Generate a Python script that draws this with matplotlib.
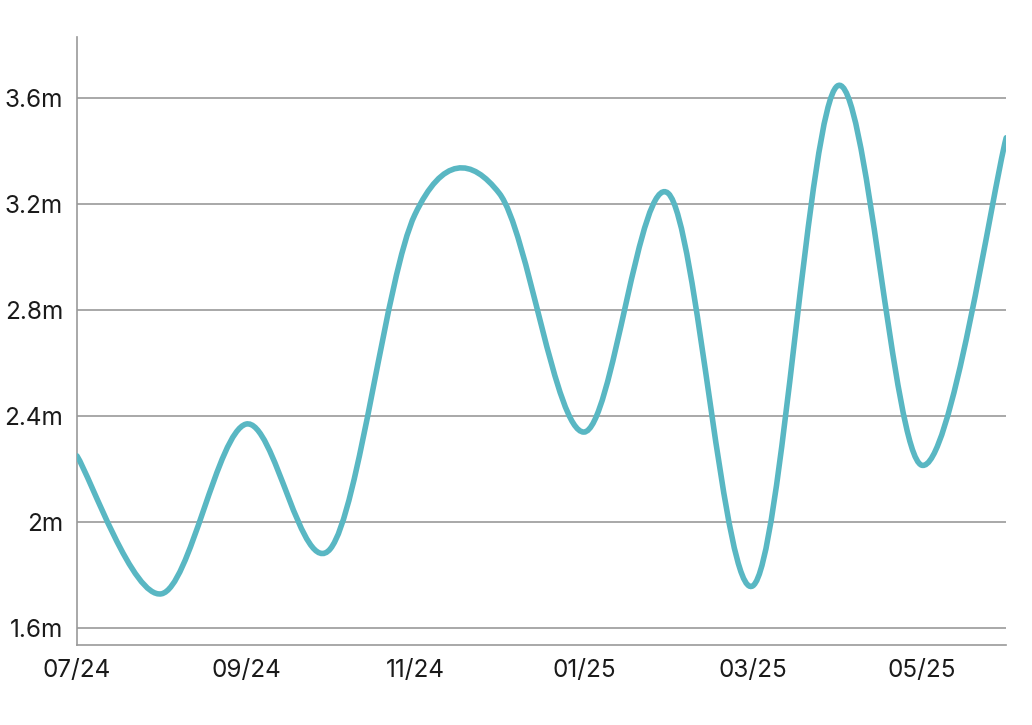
import numpy as np
import matplotlib.pyplot as plt
from matplotlib.path import Path
from matplotlib.patches import PathPatch

# monthly values (millions), 07/24 .. 06/25
months = ["07/24", "08/24", "09/24", "10/24", "11/24", "12/24",
          "01/25", "02/25", "03/25", "04/25", "05/25", "06/25"]
values = [2.25, 1.73, 2.37, 1.90, 3.16, 3.24, 2.34, 3.24, 1.76, 3.645, 2.215, 3.45]

tick_labels = ["07/24", "09/24", "11/24", "01/25", "03/25", "05/25"]
y_ticks = [1.6, 2.0, 2.4, 2.8, 3.2, 3.6]
y_labels = ["1.6m", "2m", "2.4m", "2.8m", "3.2m", "3.6m"]

plt.rcParams['font.family'] = ['Inter', 'DejaVu Sans']

fig = plt.figure(figsize=(10.32, 7.25), dpi=100)
ax = fig.add_axes([0.0746, 0.110, 0.9004, 0.839])

x = np.arange(len(values), dtype=float)
y = np.array(values)

# smooth curve through the points: Catmull-Rom as cubic Bezier segments
px = np.concatenate([[x[0]], x, [x[-1]]])
py = np.concatenate([[y[0]], y, [y[-1]]])
verts = [(x[0], y[0])]
codes = [Path.MOVETO]
for i in range(1, len(px) - 2):
    c1 = (px[i] + (px[i + 1] - px[i - 1]) / 6, py[i] + (py[i + 1] - py[i - 1]) / 6)
    c2 = (px[i + 1] - (px[i + 2] - px[i]) / 6, py[i + 1] - (py[i + 2] - py[i]) / 6)
    verts += [c1, c2, (px[i + 1], py[i + 1])]
    codes += [Path.CURVE4] * 3
ax.add_patch(PathPatch(Path(verts, codes), facecolor="none",
                       edgecolor="#59b7c3", lw=4.0, capstyle="round", zorder=3))

ax.set_xlim(0, 11)
ax.set_ylim(1.536, 3.83)

ax.set_yticks(y_ticks)
ax.set_yticklabels(y_labels)
ax.set_xticks(x[::2])
ax.set_xticklabels(tick_labels)
ax.tick_params(length=0, labelsize=17.5, colors="#1a1a1a")
ax.tick_params(axis="y", pad=10)
ax.tick_params(axis="x", pad=10)

ax.grid(axis="y", color="#999999", lw=1.2)
ax.set_axisbelow(True)
for s in ["top", "right"]:
    ax.spines[s].set_visible(False)
for s in ["left", "bottom"]:
    ax.spines[s].set_color("#999999")
    ax.spines[s].set_linewidth(1.2)

fig.savefig("out.png", dpi=100)
